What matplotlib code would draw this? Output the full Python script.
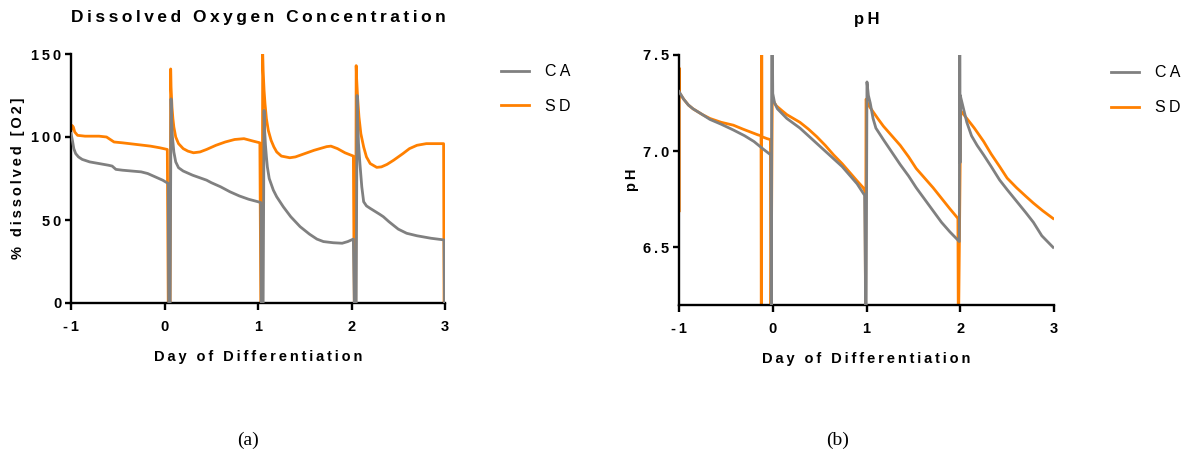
import matplotlib
matplotlib.use("Agg")
import matplotlib.pyplot as plt

# ---------------- data ----------------
# Dissolved oxygen, CA (gray)
do_ca_day = [-1.0, -0.985, -0.97, -0.95, -0.92, -0.88, -0.8, -0.7, -0.6, -0.56, -0.52,
             -0.45, -0.35, -0.25, -0.18, -0.1, -0.02, 0.04,
             0.045, 0.06, 0.07, 0.075, 0.085, 0.1, 0.12, 0.15, 0.2, 0.3, 0.4, 0.45,
             0.5, 0.6, 0.7, 0.8, 0.9, 1.0, 1.03,
             1.035, 1.055, 1.065, 1.07, 1.08, 1.09, 1.1, 1.12, 1.164, 1.2, 1.27, 1.35,
             1.45, 1.55, 1.63, 1.7, 1.805, 1.9, 1.96, 2.02,
             2.03, 2.05, 2.06, 2.065, 2.075, 2.09, 2.11, 2.13, 2.16, 2.2, 2.3, 2.34,
             2.4, 2.5, 2.59, 2.7, 2.85, 2.99, 2.995]
do_ca_val = [102, 98, 93, 90, 88, 86.5, 85, 84, 83, 82.5, 80.5,
             80, 79.5, 79, 78, 76, 74, 72,
             0, 0, 123, 112, 100, 91, 85, 81.5, 79.5, 77, 75, 74,
             72.5, 70, 67, 64.5, 62.5, 61, 60.5,
             0, 0, 116, 105, 95, 88, 82, 75, 68, 64, 58, 52,
             46, 41.5, 38.5, 37, 36.3, 36, 37, 38.5,
             0, 0, 125, 112, 96, 84, 70, 61, 58.5, 57, 53.5, 52,
             49, 44.5, 42, 40.5, 39, 38, 0]

# Dissolved oxygen, SD (orange)
do_sd_day = [-1.0, -0.99, -0.975, -0.96, -0.93, -0.85, -0.7, -0.62, -0.58, -0.54,
             -0.45, -0.3, -0.15, -0.05, 0.03,
             0.04, 0.06, 0.066, 0.07, 0.08, 0.09, 0.1, 0.12, 0.15, 0.2, 0.25, 0.31,
             0.38, 0.45, 0.55, 0.65, 0.75, 0.85, 0.95, 1.02,
             1.03, 1.045, 1.05, 1.055, 1.065, 1.075, 1.09, 1.11, 1.14, 1.17, 1.2,
             1.25, 1.34, 1.4, 1.5, 1.6, 1.735, 1.78, 1.85, 1.93, 2.02,
             2.03, 2.045, 2.05, 2.055, 2.065, 2.08, 2.1, 2.13, 2.16, 2.2, 2.27, 2.32,
             2.38, 2.45, 2.55, 2.62, 2.7, 2.8, 2.9, 2.985, 2.99]
do_sd_val = [104, 107, 106, 103, 101, 100.5, 100.5, 100, 98.5, 97,
             96.5, 95.5, 94.5, 93.5, 92.5,
             0, 0, 141, 130, 118, 111, 106, 100, 96, 93, 91.5, 90.5,
             91, 92.5, 95, 97, 98.5, 99, 97.5, 96.5,
             0, 0, 150, 140, 128, 120, 111, 104, 98, 94, 91,
             88.5, 87.5, 88, 90, 92, 94.2, 94.5, 93, 90.5, 88.5,
             0, 0, 143, 135, 124, 112, 102, 94, 88, 84, 81.7, 82,
             83.5, 86, 90, 93, 95, 96, 96, 96, 0]

# pH, CA (gray)
ph_ca_day = [-1.0, -0.95, -0.9, -0.85, -0.75, -0.67, -0.55, -0.42, -0.3, -0.2, -0.1, -0.02,
             -0.015, -0.01, 0.0, 0.02, 0.05, 0.1, 0.15, 0.22, 0.29, 0.38, 0.47, 0.56,
             0.65, 0.74, 0.82, 0.9, 0.98,
             0.995, 1.005, 1.02, 1.04, 1.07, 1.1, 1.18, 1.27, 1.36, 1.45, 1.53, 1.62,
             1.71, 1.8, 1.89, 1.95, 1.99,
             1.995, 1.998, 2.0, 2.03, 2.05, 2.07, 2.12, 2.18, 2.25, 2.33, 2.42, 2.5,
             2.6, 2.7, 2.78, 2.87, 2.93, 2.99]
ph_ca_val = [7.31, 7.27, 7.24, 7.22, 7.19, 7.165, 7.14, 7.11, 7.08, 7.05, 7.01, 6.98,
             6.0, 8.0, 7.30, 7.25, 7.22, 7.195, 7.17, 7.145, 7.12, 7.08, 7.04, 7.0,
             6.96, 6.92, 6.875, 6.83, 6.77,
             6.0, 7.36, 7.29, 7.25, 7.17, 7.12, 7.06, 6.995, 6.93, 6.87, 6.81, 6.75,
             6.69, 6.63, 6.58, 6.55, 6.53,
             8.0, 6.94, 7.29, 7.23, 7.19, 7.15, 7.08, 7.03, 6.98, 6.92, 6.85, 6.8,
             6.74, 6.68, 6.63, 6.56, 6.53, 6.50]

# pH, SD (orange)
ph_sd_day = [-0.997, -0.997, -0.997, -0.99, -0.95, -0.9, -0.85, -0.75, -0.67, -0.55,
             -0.42, -0.32, -0.24, -0.16, -0.125,
             -0.122, -0.118, -0.115, -0.06, -0.025,
             -0.02, -0.005, 0.02, 0.04, 0.1, 0.15, 0.22, 0.29, 0.38, 0.47, 0.56,
             0.65, 0.74, 0.82, 0.9, 0.965, 0.985,
             0.99, 0.995, 1.02, 1.07, 1.12, 1.18, 1.27, 1.36, 1.45, 1.53, 1.62,
             1.71, 1.8, 1.89, 1.95, 1.975,
             1.98, 2.005, 2.07, 2.15, 2.25, 2.33, 2.42, 2.5, 2.6, 2.7, 2.78, 2.88, 2.99]
ph_sd_val = [6.69, 7.43, 7.31, 7.30, 7.27, 7.24, 7.22, 7.19, 7.17, 7.15,
             7.135, 7.115, 7.10, 7.085, 7.08,
             6.0, 8.0, 7.075, 7.065, 7.06,
             6.0, 7.27, 7.25, 7.235, 7.21, 7.19, 7.17, 7.15, 7.115, 7.075, 7.03,
             6.98, 6.935, 6.89, 6.845, 6.81, 6.79,
             6.0, 7.27, 7.24, 7.205, 7.17, 7.13, 7.08, 7.03, 6.97, 6.91, 6.86,
             6.81, 6.755, 6.70, 6.665, 6.65,
             6.0, 7.21, 7.17, 7.12, 7.05, 6.985, 6.92, 6.86, 6.81, 6.765, 6.73, 6.69, 6.65]

series_labels = ["CA", "SD"]
x_ticks = [-1, 0, 1, 2, 3]
do_yticks = [0, 50, 100, 150]
ph_yticks = [6.5, 7.0, 7.5]

GRAY = "#808080"
ORANGE = "#FF8000"

plt.rcParams["font.family"] = ["Liberation Sans", "DejaVu Sans"]

TS = "\u2009"  # thin space for letter spacing


def spaced(s):
    words = s.split(" ")
    return (" " + TS + TS).join(TS.join(w) for w in words)


fig = plt.figure(figsize=(11.89, 4.55), dpi=100)
W, H = 1189, 455


def axes_px(x0, x1, ytop, ybot):
    return fig.add_axes([x0 / W, (H - ybot) / H, (x1 - x0) / W, (ybot - ytop) / H])


ax1 = axes_px(71, 445, 54, 303)
ax2 = axes_px(679, 1054, 55, 305)

lw = 2.0
for ax in (ax1, ax2):
    for s in ("top", "right"):
        ax.spines[s].set_visible(False)
    for s in ("left", "bottom"):
        ax.spines[s].set_linewidth(1.7)
        ax.spines[s].set_color("black")
    ax.tick_params(axis="x", direction="out", length=5, width=1.7, pad=7, labelsize=10.5)
    ax.tick_params(axis="y", direction="out", length=4, width=1.7, pad=3, labelsize=10.5)
    ax.set_xlim(-1, 3)
    ax.set_xticks(x_ticks)

leg_kw = dict(loc="upper left", frameon=False, fontsize=11.5, handlelength=1.7,
              handletextpad=1.0, labelspacing=1.25, borderaxespad=0.0)

# ---- panel a ----
l1, = ax1.plot(do_ca_day, do_ca_val, color=GRAY, lw=lw, label=spaced(series_labels[0]), zorder=3)
l2, = ax1.plot(do_sd_day, do_sd_val, color=ORANGE, lw=lw, label=spaced(series_labels[1]), zorder=2)
ax1.set_ylim(0, 150)
ax1.set_yticks(do_yticks)
ax1.set_yticklabels([spaced(str(v)) for v in do_yticks], fontweight="bold")
ax1.set_xticklabels([spaced(str(v)) for v in x_ticks], fontweight="bold")
ax1.set_title(spaced("Dissolved Oxygen Concentration"), fontsize=12.5, fontweight="bold", pad=23)
ax1.set_xlabel(spaced("Day of Differentiation"), fontsize=10.5, fontweight="bold", labelpad=12)
ax1.set_ylabel(spaced("% dissolved [O2]"), fontsize=10.5, fontweight="bold", labelpad=4)
ax1.legend(handles=[l1, l2], bbox_to_anchor=((495 - 71) / 374, 0.985), **leg_kw)

# ---- panel b ----
m1, = ax2.plot(ph_ca_day, ph_ca_val, color=GRAY, lw=lw, label=spaced(series_labels[0]), zorder=3)
m2, = ax2.plot(ph_sd_day, ph_sd_val, color=ORANGE, lw=lw, label=spaced(series_labels[1]), zorder=2)
ax2.set_ylim(6.2, 7.5)
ax2.set_yticks(ph_yticks)
ax2.set_yticklabels([spaced(f"{v:.1f}") for v in ph_yticks], fontweight="bold")
ax2.set_xticklabels([spaced(str(v)) for v in x_ticks], fontweight="bold")
ax2.set_title(spaced("pH"), fontsize=12, fontweight="bold", pad=22)
ax2.set_xlabel(spaced("Day of Differentiation"), fontsize=10.5, fontweight="bold", labelpad=12)
ax2.set_ylabel(spaced("pH"), fontsize=10.5, fontweight="bold", labelpad=3)
ax2.legend(handles=[m1, m2], bbox_to_anchor=((1105 - 679) / 375, 0.985), **leg_kw)

fig.text(248 / W, 1 - 440 / H, "(a)", family=["Liberation Serif", "DejaVu Serif"],
         fontsize=14, ha="center", va="center")
fig.text(838 / W, 1 - 440 / H, "(b)", family=["Liberation Serif", "DejaVu Serif"],
         fontsize=14, ha="center", va="center")

fig.savefig("out.png", dpi=100)
